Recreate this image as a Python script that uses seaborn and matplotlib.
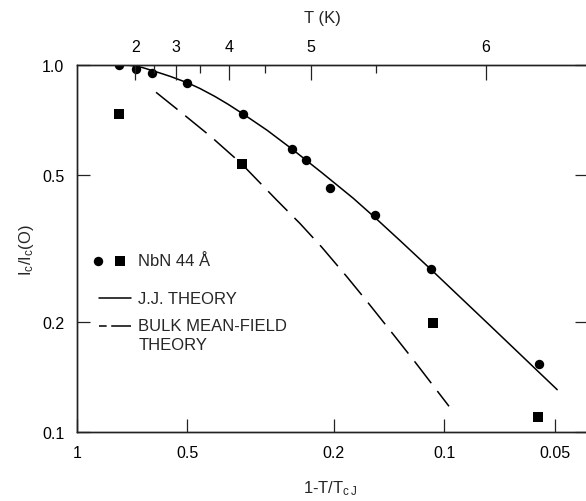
import matplotlib
matplotlib.use("Agg")
import matplotlib.pyplot as plt
import seaborn as sns
import pandas as pd
from matplotlib.ticker import FixedLocator, FixedFormatter, NullLocator
from matplotlib.lines import Line2D

# ---------------- data ----------------
# measured points, NbN 44 A : circles and squares
circle_x = [0.767, 0.690, 0.625, 0.500, 0.3535, 0.259, 0.238, 0.204, 0.154, 0.109, 0.0554]
circle_y = [0.998, 0.973, 0.949, 0.892, 0.736, 0.590, 0.551, 0.461, 0.391, 0.278, 0.153]
square_x = [0.766, 0.356, 0.1076, 0.0555]
square_y = [0.734, 0.537, 0.198, 0.1098]

# J.J. theory curve
jj_x = [0.7528, 0.7073, 0.6644, 0.6124, 0.5575, 0.4995, 0.4620, 0.4205, 0.3877,
        0.3535, 0.3035, 0.2592, 0.2151, 0.1768, 0.1534, 0.1320, 0.1087, 0.0751,
        0.0493]
jj_y = [1.000, 0.9944, 0.9832, 0.9589, 0.9300, 0.8929, 0.8615, 0.8194, 0.7808,
        0.7357, 0.6634, 0.5890, 0.5080, 0.4330, 0.3816, 0.3324, 0.2773, 0.1952,
        0.1306]

# bulk mean-field theory curve
bulk_x = [0.6083, 0.5075, 0.4293, 0.3557, 0.2858, 0.2469, 0.2156, 0.1843,
          0.1626, 0.1390, 0.1201, 0.0971]
bulk_y = [0.8412, 0.7273, 0.6346, 0.5370, 0.4284, 0.3698, 0.3191, 0.2653,
          0.2276, 0.1869, 0.1553, 0.1177]

# axes ticks
x_ticks = [1, 0.5, 0.2, 0.1, 0.05]
x_ticklabels = ["1", "0.5", "0.2", "0.1", "0.05"]
y_ticks = [0.1, 0.2, 0.5, 1.0]
y_ticklabels = ["0.1", "0.2", "0.5", "1.0"]

# top temperature axis
Tc = 6.5
T_major = [2, 3, 4, 5, 6]
T_major_labels = ["2", "3", "4", "5", "6"]
T_minor = [2.5, 3.5, 4.5, 5.5]

# ---------------- style ----------------
sns.set_theme(style="ticks")
plt.rcParams["font.family"] = ["Liberation Sans", "DejaVu Sans"]
plt.rcParams["mathtext.fontset"] = "custom"
plt.rcParams["mathtext.rm"] = "Liberation Sans"
plt.rcParams["mathtext.it"] = "Liberation Sans:italic"
plt.rcParams["axes.linewidth"] = 1.0
plt.rcParams["axes.edgecolor"] = "#222222"

W, H = 586, 502
fig = plt.figure(figsize=(W / 100, H / 100), dpi=100)
fig.patch.set_facecolor("white")

x0, x1 = 76.7, 588.0      # pixel positions of left / right spines
ytop, ybot = 65.7, 433.3  # pixel positions of top / bottom spines
decade = 367.6
ax = fig.add_axes([x0 / W, (H - ybot) / H, (x1 - x0) / W, (ybot - ytop) / H])
ax.set_facecolor("white")

circ_df = pd.DataFrame({"x": circle_x, "y": circle_y})
sq_df = pd.DataFrame({"x": square_x, "y": square_y})
jj_df = pd.DataFrame({"x": jj_x, "y": jj_y})
bulk_df = pd.DataFrame({"x": bulk_x, "y": bulk_y})

sns.lineplot(data=jj_df, x="x", y="y", sort=False, estimator=None, ax=ax,
             color="black", lw=1.1)
sns.lineplot(data=bulk_df, x="x", y="y", sort=False, estimator=None, ax=ax,
             color="black", lw=1.1)
ax.lines[-1].set_dashes([18, 6.5])
sns.scatterplot(data=circ_df, x="x", y="y", ax=ax, marker="o", color="black",
                s=46, linewidth=0, zorder=5)
sns.scatterplot(data=sq_df, x="x", y="y", ax=ax, marker="s", color="black",
                s=46, linewidth=0, zorder=5)

ax.set_xscale("log")
ax.set_yscale("log")
ax.set_xlim(1, 10 ** (-(x1 - x0) / decade))
ax.set_ylim(0.1, 1.0)
ax.set_xlabel("")
ax.set_ylabel("")

ax.xaxis.set_major_locator(FixedLocator(x_ticks))
ax.xaxis.set_major_formatter(FixedFormatter(x_ticklabels))
ax.xaxis.set_minor_locator(NullLocator())
ax.yaxis.set_major_locator(FixedLocator(y_ticks))
ax.yaxis.set_major_formatter(FixedFormatter(y_ticklabels))
ax.yaxis.set_minor_locator(NullLocator())
ax.tick_params(which="major", direction="in", length=9.5, width=0.9,
               right=True, top=False, labelsize=11.5, pad=9, colors="#222222",
               labelcolor="black")
for sp in ax.spines.values():
    sp.set_linewidth(1.0)

# top axis : temperature
ax2 = ax.twiny()
ax2.set_xscale("log")
ax2.set_xlim(ax.get_xlim())
ax2.xaxis.set_major_locator(FixedLocator([1 - t / Tc for t in T_major]))
ax2.xaxis.set_major_formatter(FixedFormatter(T_major_labels))
ax2.xaxis.set_minor_locator(FixedLocator([1 - t / Tc for t in T_minor]))
ax2.tick_params(axis="x", which="major", direction="in", length=11, width=0.9,
                labelsize=11.5, pad=8, colors="#222222", labelcolor="black")
ax2.tick_params(axis="x", which="minor", direction="in", length=5.5, width=0.9,
                colors="#222222")
for sp in ax2.spines.values():
    sp.set_linewidth(1.0)

# axis titles
fig.text(322 / W, 1 - 18 / H, "T (K)", ha="center", va="center", fontsize=12)
fig.text(330 / W, 1 - 489 / H, r"1-T/T$_{\mathrm{c\,J}}$", ha="center",
         va="center", fontsize=12)
fig.text(26 / W, 1 - 250 / H, r"I$_{\mathrm{c}}$/I$_{\mathrm{c}}$(O)",
         ha="center", va="center", rotation=90, fontsize=12)

# legend drawn inside the axes
def axf(px, py):
    return (px - x0) / (x1 - x0), (ybot - py) / (ybot - ytop)

tx = axf(138.3, 0)[0]
ax.scatter(*axf(98.3, 262.3), transform=ax.transAxes, marker="o", s=46,
           color="black", linewidth=0, clip_on=False)
ax.scatter(*axf(120, 261.7), transform=ax.transAxes, marker="s", s=46,
           color="black", linewidth=0, clip_on=False)
ax.text(tx, axf(0, 262)[1], "NbN 44 Å", transform=ax.transAxes, fontsize=12,
        va="center", ha="left")

la, lb = axf(99, 0)[0], axf(131, 0)[0]
ax.add_line(Line2D([la, lb], [axf(0, 299.3)[1]] * 2, transform=ax.transAxes,
                   color="black", lw=1.1))
ax.text(tx, axf(0, 299)[1], "J.J. THEORY", transform=ax.transAxes,
        fontsize=12, va="center", ha="left")

ax.add_line(Line2D([la, lb], [axf(0, 326.7)[1]] * 2, transform=ax.transAxes,
                   color="black", lw=1.1, dashes=[5, 3, 14, 0.01]))
ax.text(tx, axf(0, 326.7)[1], "BULK MEAN-FIELD", transform=ax.transAxes,
        fontsize=12, va="center", ha="left")
ax.text(tx, axf(0, 345.5)[1], "THEORY", transform=ax.transAxes,
        fontsize=12, va="center", ha="left")

fig.savefig("out.png", dpi=100, facecolor="white")
